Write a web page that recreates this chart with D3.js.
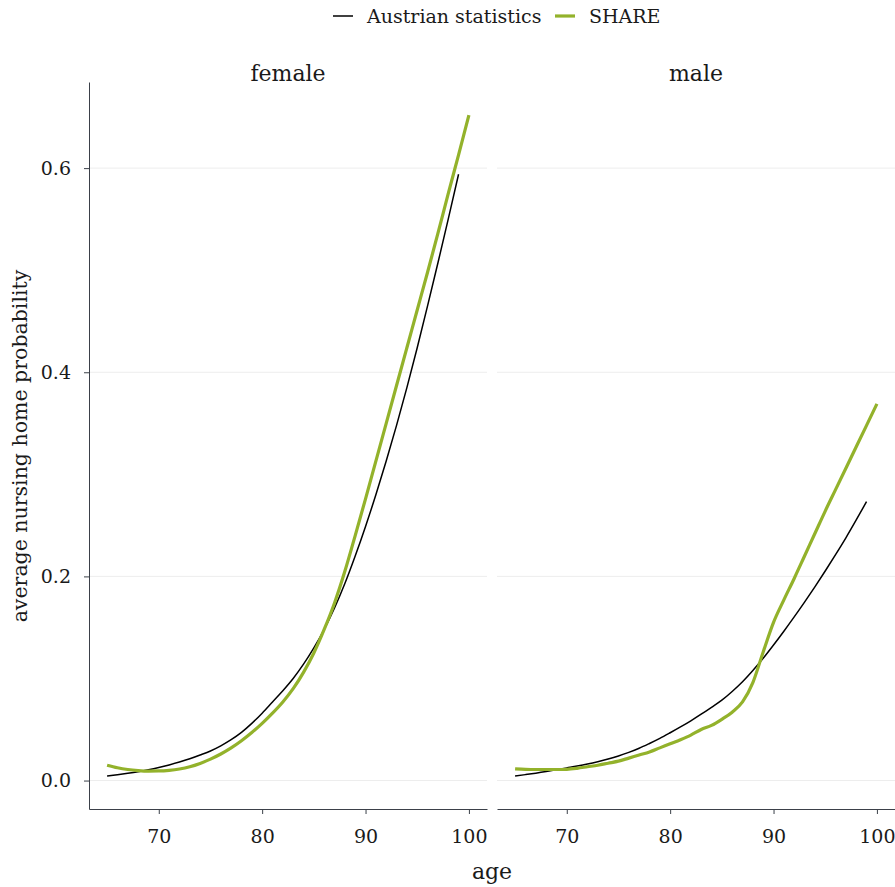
<!DOCTYPE html>
<html>
<head>
<meta charset="utf-8">
<script src="https://cdn.jsdelivr.net/npm/d3@7"></script>
<style>
  body { margin: 0; background: #fff; }
  text { font-family: "DejaVu Serif", serif; fill: #1a1a1a; }
</style>
</head>
<body>
<svg width="895" height="887"></svg>
<script>
// panels and series
const panels = ["female", "male"]
const seriesNames = ["Austrian statistics", "SHARE"]
const seriesColors = { "Austrian statistics": "#000000", SHARE: "#93b22b" }
const seriesWidths = { "Austrian statistics": 1.5, SHARE: 3.2 }

// ages
const agesStat = d3.range(65, 100)   // 65..99
const agesShare = d3.range(65, 101)  // 65..100

// female
const femaleStat = [0.0045, 0.0057, 0.0071, 0.0087, 0.0106, 0.0128, 0.0153, 0.0181, 0.0213, 0.0250,
  0.0290, 0.034, 0.040, 0.0472, 0.056, 0.066, 0.077, 0.088, 0.100, 0.114,
  0.130, 0.148, 0.169, 0.193, 0.220, 0.249, 0.280, 0.313, 0.348, 0.385,
  0.424, 0.465, 0.507, 0.550, 0.594]
const femaleShare = [0.015, 0.0125, 0.0108, 0.0098, 0.0093, 0.0094, 0.010, 0.0113, 0.0135, 0.0168,
  0.021, 0.026, 0.032, 0.039, 0.047, 0.056, 0.066, 0.077, 0.090, 0.106,
  0.125, 0.148, 0.174, 0.205, 0.240, 0.276, 0.313, 0.350, 0.387, 0.424,
  0.461, 0.498, 0.536, 0.575, 0.613, 0.652]

// male
const maleStat = [0.0045, 0.0058, 0.0072, 0.0088, 0.0106, 0.0124, 0.0142, 0.0162, 0.0185, 0.0211,
  0.0241, 0.0276, 0.0316, 0.0363, 0.0413, 0.0468, 0.0525, 0.0585, 0.065, 0.0718,
  0.0788, 0.0873, 0.0968, 0.1078, 0.1198, 0.1328, 0.1463, 0.1603, 0.1748, 0.1898,
  0.2053, 0.2213, 0.2378, 0.2553, 0.2733]
const maleShare = [0.0115, 0.011, 0.0108, 0.0108, 0.0108, 0.011, 0.012, 0.0135, 0.015, 0.017,
  0.019, 0.022, 0.025, 0.028, 0.032, 0.036, 0.040, 0.0445, 0.050, 0.054,
  0.060, 0.067, 0.077, 0.096, 0.126, 0.155, 0.177, 0.198, 0.220, 0.242,
  0.264, 0.285, 0.306, 0.327, 0.348, 0.369]

const xTicks = [70, 80, 90, 100]
const yTicks = [0, 0.2, 0.4, 0.6]

const data = {
  female: [
    { name: "Austrian statistics", pts: agesStat.map((a, i) => [a, femaleStat[i]]) },
    { name: "SHARE", pts: agesShare.map((a, i) => [a, femaleShare[i]]) },
  ],
  male: [
    { name: "Austrian statistics", pts: agesStat.map((a, i) => [a, maleStat[i]]) },
    { name: "SHARE", pts: agesShare.map((a, i) => [a, maleShare[i]]) },
  ],
}

var svg = d3.select("svg")
const plotTop = 82, plotBottom = 809
const panelX = { female: [89, 487], male: [497, 895] }

// shared y scale with ggplot-style 5% expansion
const yMin = 0.0045, yMax = 0.652
const yPad = (yMax - yMin) * 0.05
const y = d3.scaleLinear().domain([yMin - yPad, yMax + yPad]).range([plotBottom, plotTop])
const xPad = (100 - 65) * 0.05

const axisCol = "#3b4049"

panels.forEach(p => {
  const x = d3.scaleLinear().domain([65 - xPad, 100 + xPad]).range(panelX[p])
  const g = svg.append("g")

  // horizontal grid
  g.selectAll(".grid")
    .data(yTicks)
    .enter()
    .append("line")
    .attr("x1", panelX[p][0])
    .attr("x2", panelX[p][1])
    .attr("y1", d => y(d))
    .attr("y2", d => y(d))
    .attr("stroke", "#ededed")
    .attr("stroke-width", 1)

  // strip label
  g.append("text")
    .attr("x", (panelX[p][0] + panelX[p][1]) / 2)
    .attr("y", 73)
    .attr("text-anchor", "middle")
    .attr("dominant-baseline", "central")
    .style("font-size", "22px")
    .text(p)

  // lines
  const line = d3.line().x(d => x(d[0])).y(d => y(d[1])).curve(d3.curveMonotoneX)
  data[p].forEach(s => {
    g.append("path")
      .attr("d", line(s.pts))
      .attr("fill", "none")
      .attr("stroke", seriesColors[s.name])
      .attr("stroke-width", seriesWidths[s.name])
      .attr("stroke-linejoin", "round")
  })

  // x axis
  const xa = g.append("g")
    .attr("transform", `translate(0,${plotBottom})`)
    .call(d3.axisBottom(x).tickValues(xTicks).tickSize(5).tickSizeOuter(0).tickPadding(16).tickFormat(d3.format("d")))
  xa.select(".domain").attr("stroke", axisCol)
  xa.selectAll(".tick line").attr("stroke", axisCol)
  xa.selectAll("text").style("font-size", "19px").attr("fill", "#1a1a1a").style("font-family", "DejaVu Serif")

  if (p === "female") {
    const ya = g.append("g")
      .attr("transform", `translate(${panelX[p][0]},0)`)
      .call(d3.axisLeft(y).tickValues(yTicks).tickSize(5).tickSizeOuter(0).tickPadding(13).tickFormat(d3.format(".1f")))
    ya.select(".domain").attr("stroke", axisCol)
    ya.selectAll(".tick line").attr("stroke", axisCol)
    ya.selectAll("text").style("font-size", "19px").attr("fill", "#1a1a1a").style("font-family", "DejaVu Serif")
  }
})

// axis titles
svg.append("text")
  .attr("x", 492)
  .attr("y", 871)
  .attr("text-anchor", "middle")
  .attr("dominant-baseline", "central")
  .style("font-size", "22px")
  .text("age")

svg.append("text")
  .attr("transform", "translate(20,446) rotate(-90)")
  .attr("text-anchor", "middle")
  .attr("dominant-baseline", "central")
  .style("font-size", "20.5px")
  .text("average nursing home probability")

// legend
const legend = svg.append("g")
const legX = [333, 555]
seriesNames.forEach((s, i) => {
  legend.append("line")
    .attr("x1", legX[i])
    .attr("x2", legX[i] + 20)
    .attr("y1", 16)
    .attr("y2", 16)
    .attr("stroke", seriesColors[s])
    .attr("stroke-width", seriesWidths[s])
  legend.append("text")
    .attr("x", legX[i] + 34)
    .attr("y", 16)
    .attr("dominant-baseline", "central")
    .style("font-size", "19px")
    .text(s)
})
</script>
</body>
</html>
